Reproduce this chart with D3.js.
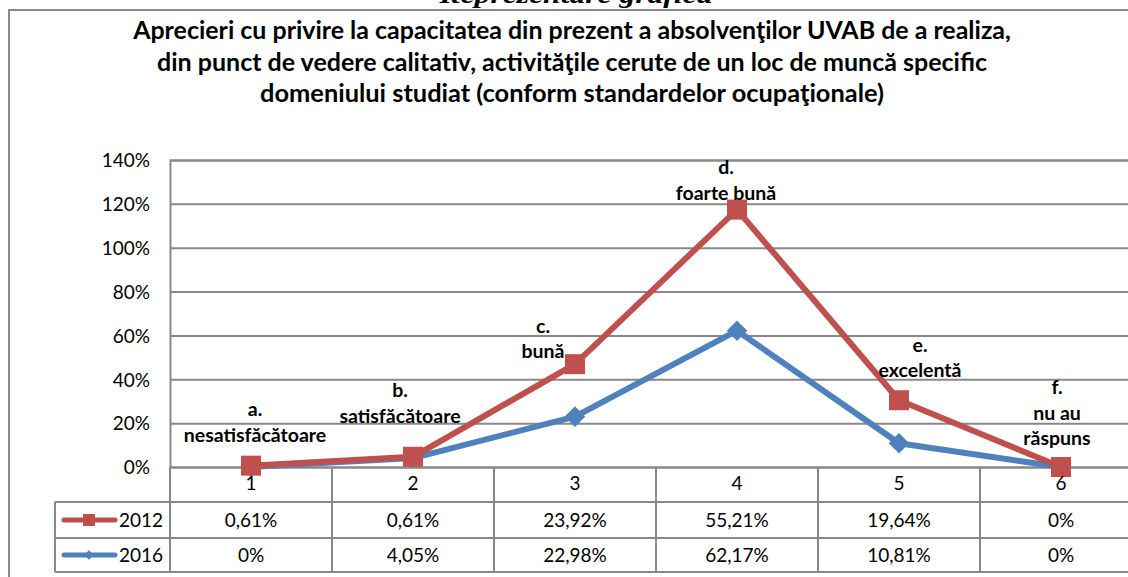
<!DOCTYPE html>
<html>
<head>
<meta charset="utf-8">
<script src="https://cdn.jsdelivr.net/npm/d3@7"></script>
<style>
  html, body { margin: 0; padding: 0; background: #fff; overflow: hidden; }
  text { font-family: Lato, "Open Sans", sans-serif; fill: #000; }
</style>
</head>
<body>
<div id="chart"></div>
<script>
// data
const categories = ["1", "2", "3", "4", "5", "6"];
const pointLabels = [
  ["a.", "nesatisfăcătoare"],
  ["b.", "satisfăcătoare"],
  ["c.", "bună"],
  ["d.", "foarte bună"],
  ["e.", "excelentă"],
  ["f.", "nu au", "răspuns"]
];
const values2012 = [0.61, 0.61, 23.92, 55.21, 19.64, 0];
const values2016 = [0, 4.05, 22.98, 62.17, 10.81, 0];
const cells2012 = ["0,61%", "0,61%", "23,92%", "55,21%", "19,64%", "0%"];
const cells2016 = ["0%", "4,05%", "22,98%", "62,17%", "10,81%", "0%"];
const yTicks = [0, 20, 40, 60, 80, 100, 120, 140];
const titleLines = [
  "Aprecieri cu privire la capacitatea din prezent a absolvenţilor UVAB de a realiza,",
  "din punct de vedere calitativ, activităţile cerute de un loc de muncă specific",
  "domeniului studiat (conform standardelor ocupaţionale)"
];

// label nudges (dx from category centre, dy of last line from the point)
const labelNudge = [[4, -24], [-13, -34], [-32, -6], [-11, -10], [21, -23], [-4, -22]];

const w = 1128, h = 577;
const red = "#C0504D", blue = "#4F81BD", grid = "#888888";

const svg = d3.select("#chart").append("svg")
  .attr("width", w).attr("height", h);

// text of the page sitting behind the chart, cut by the top edge as in the reference
svg.append("text")
  .attr("x", 576).attr("y", 3)
  .attr("text-anchor", "middle")
  .attr("textLength", 273).attr("lengthAdjust", "spacingAndGlyphs")
  .style("font-family", "'Liberation Serif', serif")
  .style("font-style", "italic").style("font-weight", "bold")
  .style("font-size", "26px")
  .text("Reprezentare grafică");

// chart frame
svg.append("rect")
  .attr("x", 9).attr("y", 10)
  .attr("width", w).attr("height", h)
  .attr("fill", "#fff")
  .attr("stroke", grid).attr("stroke-width", 2);

// title, each line fitted to the width it takes in the reference
const titleWidths = [878, 830, 624];
titleLines.forEach((t, i) => {
  const el = svg.append("text")
    .attr("x", 572).attr("y", 39 + i * 31.5)
    .attr("text-anchor", "middle")
    .style("font-weight", "bold")
    .style("font-size", "22px")
    .text(t);
  const len = el.node().getComputedTextLength();
  el.style("font-size", (22 * titleWidths[i] / len).toFixed(2) + "px");
});

const xScale = d3.scaleBand()
  .domain(categories)
  .range([170, 170 + 162 * categories.length]);
const cx = c => xScale(c) + xScale.bandwidth() / 2;

const yScale = d3.scaleLinear()
  .domain([0, 140])
  .range([467, 160]);

// gridlines + y labels
const yAxis = d3.axisLeft(yScale)
  .tickValues(yTicks)
  .tickSize(-(w - 170))
  .tickFormat(d => d + "%");

const gy = svg.append("g")
  .attr("transform", "translate(170,0)")
  .call(yAxis);
gy.select(".domain").attr("stroke", grid).attr("stroke-width", 2);
gy.selectAll(".tick line").attr("stroke", grid).attr("stroke-width", 2);
gy.selectAll(".tick text")
  .attr("x", -20).attr("dy", "0.36em")
  .style("font-size", "19px")
  .style("font-family", "Lato, sans-serif")
  .attr("fill", "#000");

// stacked lines (Excel stacked line: 2016 at bottom, 2012 on top)
const rows = categories.map((c, i) => ({ cat: c, y2012: values2012[i], y2016: values2016[i] }));
const stacked = d3.stack().keys(["y2016", "y2012"])(rows);

const line = d3.line()
  .x(d => cx(d.data.cat))
  .y(d => yScale(d[1]));

svg.append("path")
  .datum(stacked[0])
  .attr("d", line)
  .attr("fill", "none").attr("stroke", blue)
  .attr("stroke-width", 6).attr("stroke-linejoin", "round");

svg.selectAll(".dia")
  .data(stacked[0])
  .join("path")
  .attr("class", "dia")
  .attr("d", d3.symbol(d3.symbolDiamond2, 270))
  .attr("transform", d => "translate(" + cx(d.data.cat) + "," + yScale(d[1]) + ")")
  .attr("fill", blue);

svg.append("path")
  .datum(stacked[1])
  .attr("d", line)
  .attr("fill", "none").attr("stroke", red)
  .attr("stroke-width", 6).attr("stroke-linejoin", "round");

svg.selectAll(".sq")
  .data(stacked[1])
  .join("rect")
  .attr("class", "sq")
  .attr("x", d => cx(d.data.cat) - 10)
  .attr("y", d => yScale(d[1]) - 10)
  .attr("width", 20).attr("height", 20)
  .attr("fill", red);

// category labels above the red points
stacked[1].forEach((d, i) => {
  const lines = pointLabels[i];
  const last = yScale(d[1]) + labelNudge[i][1];
  const t = svg.append("text")
    .attr("text-anchor", "middle")
    .style("font-weight", "bold")
    .style("font-size", "19.5px");
  lines.forEach((s, k) => {
    t.append("tspan")
      .attr("x", cx(d.data.cat) + labelNudge[i][0])
      .attr("y", last - (lines.length - 1 - k) * 25.5)
      .text(s);
  });
});

// data table
const tableLeft = 55, rowLines = [502, 538, 572];
const tableRight = 170 + 162 * categories.length;

rowLines.forEach(y => {
  svg.append("line")
    .attr("x1", tableLeft).attr("x2", tableRight)
    .attr("y1", y).attr("y2", y)
    .attr("stroke", grid).attr("stroke-width", 2);
});
svg.append("line")
  .attr("x1", tableLeft).attr("x2", tableLeft)
  .attr("y1", rowLines[0]).attr("y2", rowLines[2])
  .attr("stroke", grid).attr("stroke-width", 2);
categories.concat(["end"]).forEach((c, i) => {
  const x = 170 + i * xScale.bandwidth();
  svg.append("line")
    .attr("x1", x).attr("x2", x)
    .attr("y1", 467).attr("y2", rowLines[2])
    .attr("stroke", grid).attr("stroke-width", 2);
});

// header row: category numbers
svg.selectAll(".catnum")
  .data(categories)
  .join("text")
  .attr("class", "catnum")
  .attr("x", c => cx(c)).attr("y", 490)
  .attr("text-anchor", "middle")
  .style("font-size", "19px")
  .text(c => c);

const tableRows = [
  { name: "2012", cells: cells2012, color: red, y: 527 },
  { name: "2016", cells: cells2016, color: blue, y: 562 }
];
tableRows.forEach(r => {
  svg.selectAll(null)
    .data(r.cells)
    .join("text")
    .attr("x", (v, i) => cx(categories[i])).attr("y", r.y)
    .attr("text-anchor", "middle")
    .style("font-size", "19px")
    .text(v => v);

  const ly = r.y - 7;
  svg.append("line")
    .attr("x1", 64).attr("x2", 115)
    .attr("y1", ly).attr("y2", ly)
    .attr("stroke", r.color).attr("stroke-width", 5)
    .attr("stroke-linecap", "round");
  if (r.name === "2012") {
    svg.append("rect")
      .attr("x", 83).attr("y", ly - 6)
      .attr("width", 12).attr("height", 12)
      .attr("fill", r.color);
  } else {
    svg.append("path")
      .attr("d", d3.symbol(d3.symbolDiamond2, 60))
      .attr("transform", "translate(89," + ly + ")")
      .attr("fill", r.color);
  }
  svg.append("text")
    .attr("x", 163).attr("y", r.y)
    .attr("text-anchor", "end")
    .style("font-size", "19px")
    .text(r.name);
});
</script>
</body>
</html>
